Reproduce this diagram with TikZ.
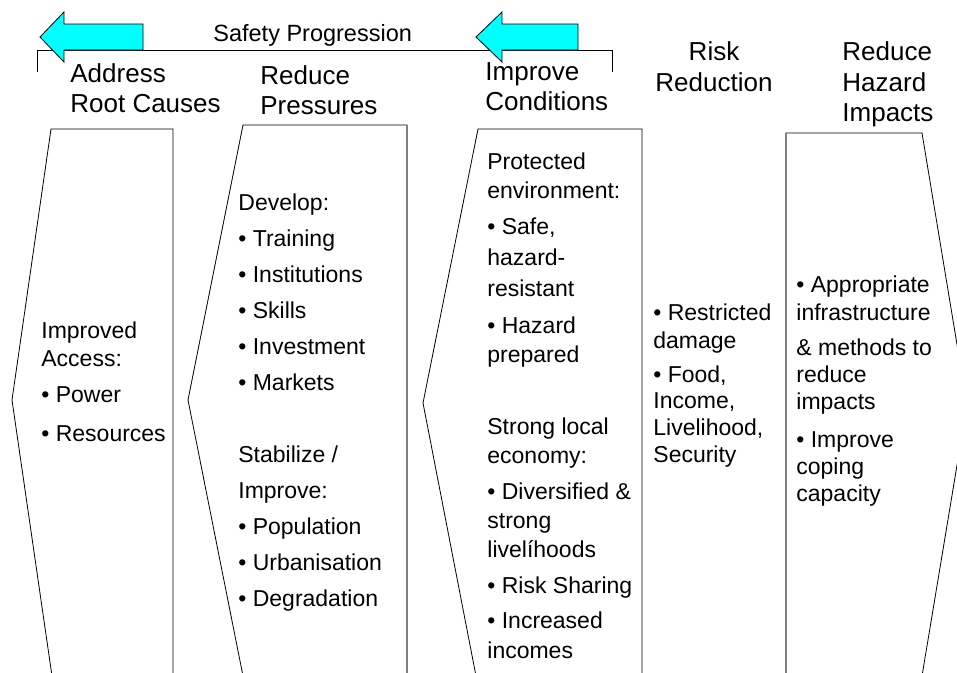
\documentclass[tikz,border=0pt]{standalone}
\usepackage{fontspec}
\setmainfont{Liberation Sans}
\definecolor{arrowcyan}{RGB}{0,255,255}

\begin{document}
\begin{tikzpicture}[x=1pt,y=-1pt,line width=0.8pt,
        body/.style={anchor=base west,inner sep=0pt,font=\fontsize{23}{28}\selectfont},
        head/.style={anchor=base west,inner sep=0pt,font=\fontsize{26}{30}\selectfont},
        column/.style={draw=black},
        seam/.style={draw=gray,line width=1.3pt},
        flowarrow/.style={draw=black,fill=arrowcyan}]
        \useasboundingbox (0,0) rectangle (957,672);
        \clip (0,0) rectangle (957,672);
        % bracket and arrows
        \draw (37,72)--(37,50)--(612,50)--(612,72);
        \draw[flowarrow] (40,37)--(64,12)--(64,24)--(143,24)--(143,50)--(64,50)--(64,62)--cycle;
        \draw[flowarrow] (476,37)--(502,12)--(502,24)--(578,24)--(578,50)--(502,50)--(502,62)--cycle;
        \node[body,font=\fontsize{23.5}{28}\selectfont] (title) at (213,41) {Safety Progression};
        % headings
        \node[head] (roothead) at (70,82) {Address};
        \node[head] (roothead2) at (70,112) {Root Causes};
        \node[head] (presshead) at (260,84) {Reduce};
        \node[head] (presshead2) at (260,114) {Pressures};
        \node[head] (condhead) at (485,80) {Improve};
        \node[head] (condhead2) at (485,110) {Conditions};
        \node[head,anchor=base] (riskhead) at (714,60) {Risk};
        \node[head,anchor=base] (riskhead2) at (714,91) {Reduction};
        \node[head] (hazhead) at (842,60) {Reduce};
        \node[head] (hazhead2) at (842,91) {Hazard};
        \node[head] (hazhead3) at (842,121) {Impacts};
        % columns
        \draw[column] (51,129)--(173,129)--(173,676)--(52,676)--(12,400)--cycle;
        \draw[column] (243,125)--(407,125)--(407,676)--(243,676)--(188,400)--cycle;
        \draw[column] (478,129)--(642,129)--(642,676)--(476,676)--(423,403)--cycle;
        \draw[column] (786,133)--(922,133)--(967,405)--(922,676)--(786,676)--cycle;
        \draw[seam] (407,125)--(407,676);
        \draw[seam] (786,133)--(786,676);
        % column texts
        \foreach \y/\t [count=\i] in {338/Improved,366/Access:,402/• Power,441/• Resources}
            \node[body] (root\i) at (41,\y) {\t};
        \foreach \y/\t [count=\i] in {210/Develop:,246/• Training,282/• Institutions,318/• Skills,
                354/• Investment,390/• Markets,462/{Stabilize /},498/Improve:,534/• Population,
                570/• Urbanisation,606/• Degradation}
            \node[body] (press\i) at (238,\y) {\t};
        \foreach \y/\t [count=\i] in {169/Protected,198/environment:,234/{• Safe,},265/hazard-,
                296/resistant,333/• Hazard,362/prepared,434/Strong local,463/economy:,
                499/• Diversified \&,528/strong,557/livelíhoods,593/• Risk Sharing,
                628/• Increased,658/incomes}
            \node[body] (cond\i) at (487,\y) {\t};
        \foreach \y/\t [count=\i] in {320/• Restricted,348/damage,382/{• Food,},408/{Income,},
                435/{Livelihood,},462/Security}
            \node[body] (risk\i) at (653,\y) {\t};
        \foreach \y/\t [count=\i] in {292/• Appropriate,320/infrastructure,355/\& methods to,
                382/reduce,409/impacts,447/• Improve,474/coping,501/capacity}
            \node[body] (haz\i) at (796,\y) {\t};
    \end{tikzpicture}
\end{document}
